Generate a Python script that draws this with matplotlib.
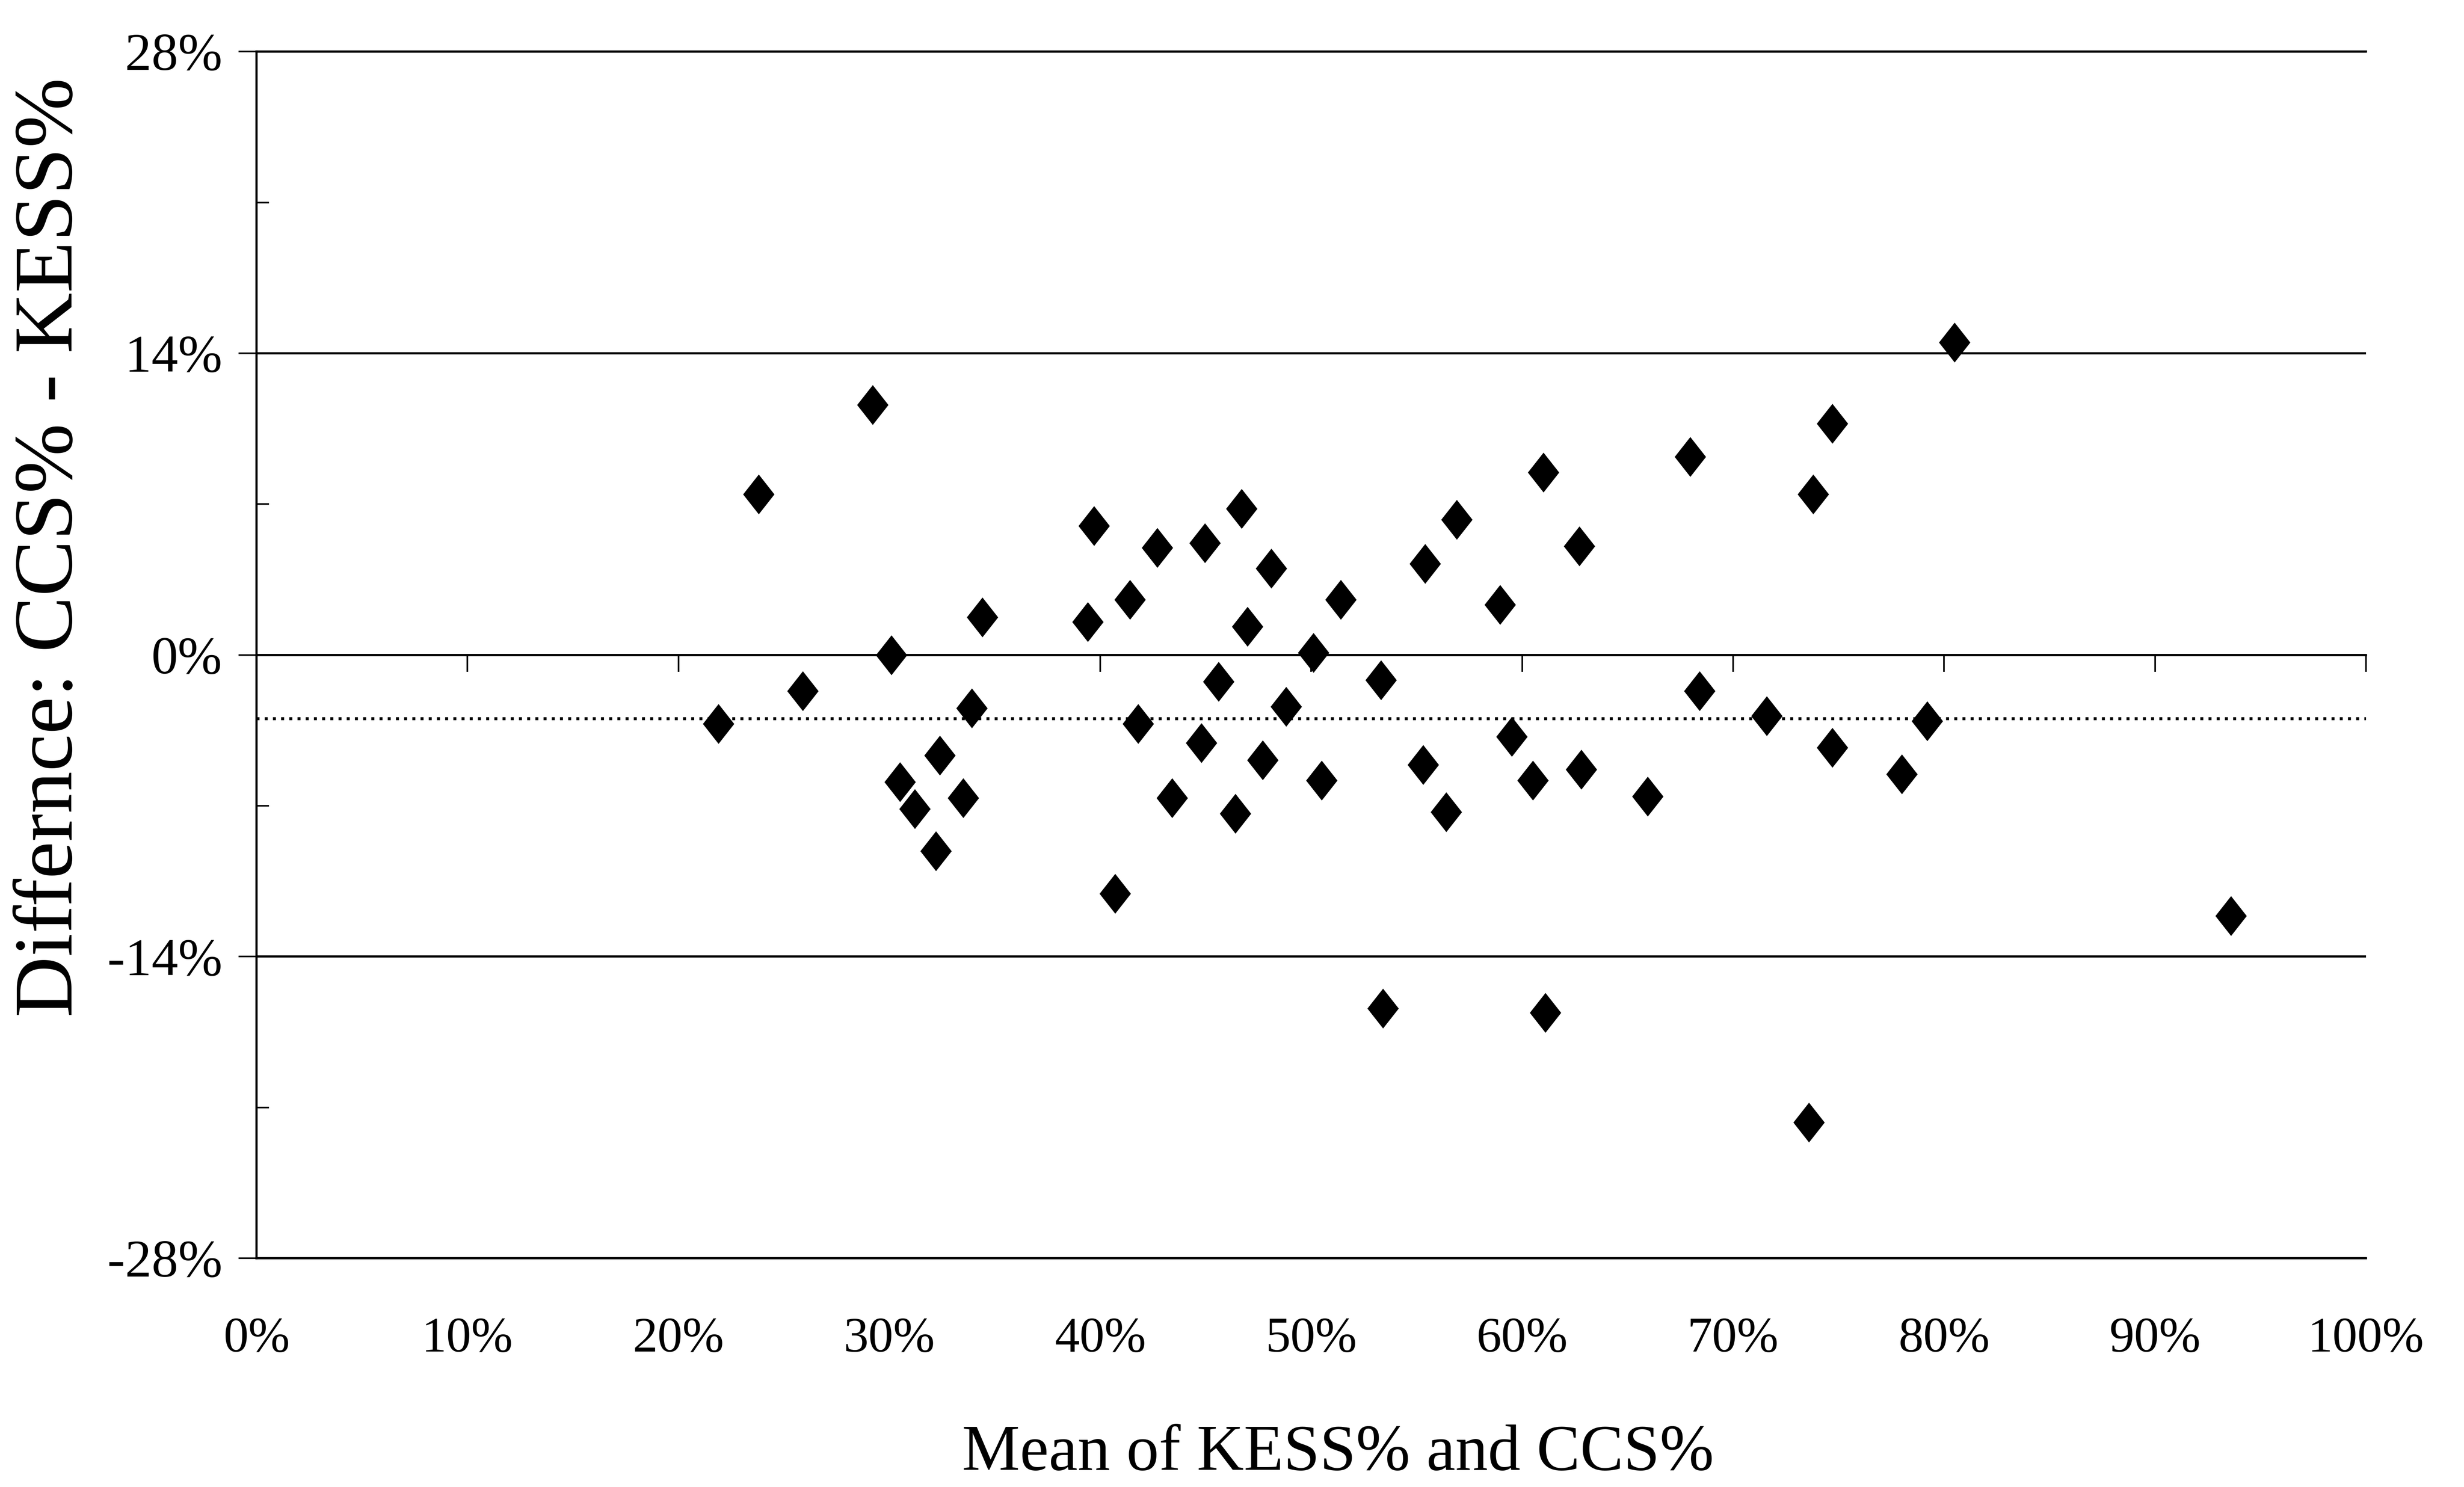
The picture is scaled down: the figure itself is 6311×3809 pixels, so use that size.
import numpy as np
import matplotlib.pyplot as plt
from matplotlib.path import Path

# Bland-Altman data (values in %)
mean_pct = [21.9, 23.8, 25.9, 29.2, 30.1, 30.5, 31.2, 32.2, 32.4, 33.5,
            33.9, 34.4, 39.4, 39.7, 40.7, 41.4, 41.8, 42.7, 43.4, 44.8,
            44.95, 45.6, 46.4, 46.7, 46.97, 47.7, 48.1, 48.8, 50.1, 50.5,
            51.4, 53.3, 53.4, 55.4, 55.3, 56.4, 56.9, 58.95, 59.5, 60.5,
            61.0, 61.1, 62.7, 62.8, 65.95, 67.97, 68.4, 71.6, 73.6, 73.8,
            74.7, 74.7, 78.0, 79.2, 80.5, 93.6]
diff_pct = [-3.2, 7.45, -1.67, 11.6, 0.0, -5.9, -7.14, -9.1, -4.66, -6.63,
            -2.47, 1.76, 1.54, 5.99, -11.08, 2.56, -3.2, 4.97, -6.63, -4.08,
            5.19, -1.23, -7.36, 6.79, 1.32, -4.88, 4.02, -2.4, 0.1, -5.83,
            2.56, -1.16, -16.4, 4.24, -5.1, -7.29, 6.28, 2.34, -3.79, -5.83,
            8.47, -16.6, 5.04, -5.32, -6.56, 9.2, -1.67, -2.84, -21.7, 7.45,
            10.73, -4.3, -5.54, -3.06, 14.5, -12.1]
mean_diff = -2.95

x_ticks = list(range(0, 101, 10))
y_major = [-28, -14, 0, 14, 28]
y_minor = [-21, -7, 7, 21]

plt.rcParams['font.family'] = ['Liberation Serif', 'DejaVu Serif']

fig = plt.figure(figsize=(63.11, 38.09), dpi=100)
ax = fig.add_axes([0.1041, 0.1538, 0.8561, 0.8115])

# slightly tall diamond marker
diamond = Path([(0, 1), (0.786, 0), (0, -1), (-0.786, 0), (0, 1)],
               [Path.MOVETO, Path.LINETO, Path.LINETO, Path.LINETO, Path.CLOSEPOLY])
ax.scatter(mean_pct, diff_pct, marker=diamond, s=5400, color='black',
           linewidths=0, zorder=3)

# mean difference line
ax.axhline(mean_diff, color='black', lw=5.5, ls=(0, (1, 1.75)), zorder=2)

ax.set_xlim(0, 100)
ax.set_ylim(-28, 28)

# horizontal grid
ax.set_yticks(y_major)
ax.set_yticklabels([f'{v}%' for v in y_major], fontsize=98)
ax.set_yticks(y_minor, minor=True)
ax.yaxis.grid(True, which='major', color='black', lw=4)
ax.tick_params(axis='y', which='major', direction='out', length=33, width=3, pad=30)
ax.tick_params(axis='y', which='minor', direction='in', length=23, width=3)

ax.set_xticks(x_ticks)
ax.set_xticklabels([f'{v}%' for v in x_ticks], fontsize=92)
ax.tick_params(axis='x', length=0, pad=108)

for side in ['left', 'top', 'bottom']:
    ax.spines[side].set_linewidth(4)
ax.spines['right'].set_visible(False)

# ticks sitting on the zero line
sec = ax.secondary_xaxis(0.5)
sec.set_alignment('bottom')
sec.set_xticks(x_ticks)
sec.set_xticklabels([])
sec.tick_params(direction='out', length=31, width=3)
sec.spines['bottom'].set_linewidth(4)

fig.text(0.021, 0.632, 'Differnce: CCS% - KESS%', rotation=90,
         fontsize=155, ha='center', va='center')
fig.text(0.543, 0.002, 'Mean of KESS% and CCS%', fontsize=120,
         ha='center', va='bottom')

fig.savefig('out.png', dpi=100, facecolor='white')
